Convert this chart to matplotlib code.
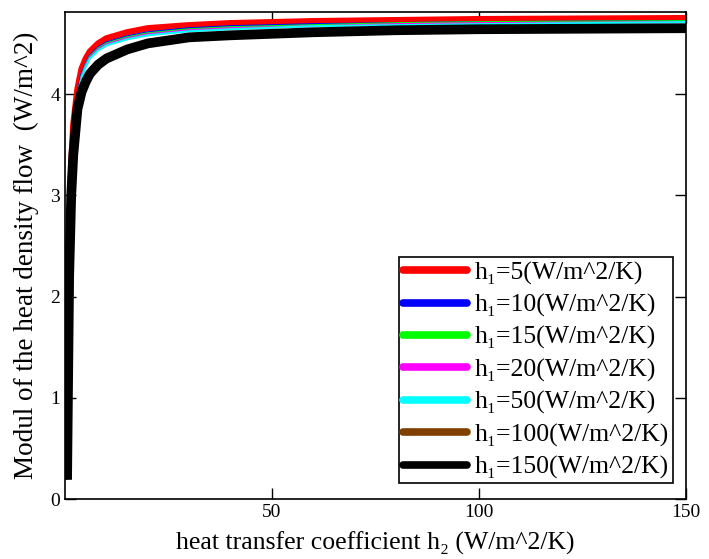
import matplotlib
matplotlib.use("Agg")
import matplotlib.pyplot as plt
from matplotlib.lines import Line2D

plt.rcParams['font.family'] = ['Liberation Serif', 'DejaVu Serif']

# heat transfer coefficient h2 sample points
h2 = [0.5, 1, 1.5, 2, 3, 4, 5, 6, 8, 10, 15, 20, 30, 40, 60, 80, 100, 150]

q_h5 = [0.20, 2.50, 3.30, 3.70, 4.05, 4.25, 4.35, 4.42, 4.50, 4.55, 4.61, 4.65, 4.68, 4.70, 4.72, 4.73, 4.74, 4.75]
q_h10 = [0.20, 2.45, 3.25, 3.65, 4.00, 4.20, 4.30, 4.38, 4.46, 4.51, 4.57, 4.61, 4.65, 4.67, 4.69, 4.70, 4.71, 4.72]
q_h15 = [0.20, 2.43, 3.23, 3.63, 3.98, 4.18, 4.29, 4.37, 4.45, 4.50, 4.56, 4.60, 4.64, 4.66, 4.68, 4.70, 4.71, 4.72]
q_h20 = [0.20, 2.42, 3.22, 3.62, 3.97, 4.17, 4.28, 4.36, 4.44, 4.49, 4.55, 4.59, 4.63, 4.65, 4.67, 4.69, 4.70, 4.71]
q_h50 = [0.20, 2.40, 3.20, 3.60, 3.95, 4.16, 4.27, 4.35, 4.43, 4.48, 4.54, 4.58, 4.62, 4.64, 4.67, 4.68, 4.69, 4.71]
q_h100 = [0.19, 2.30, 3.10, 3.50, 3.90, 4.08, 4.17, 4.25, 4.33, 4.39, 4.47, 4.52, 4.57, 4.59, 4.62, 4.64, 4.65, 4.66]
q_h150 = [0.19, 2.20, 3.00, 3.40, 3.85, 4.02, 4.12, 4.20, 4.29, 4.35, 4.44, 4.50, 4.56, 4.58, 4.61, 4.63, 4.64, 4.65]

labels = ['h\u2081=5(W/m^2/K)', 'h\u2081=10(W/m^2/K)', 'h\u2081=15(W/m^2/K)',
          'h\u2081=20(W/m^2/K)', 'h\u2081=50(W/m^2/K)', 'h\u2081=100(W/m^2/K)',
          'h\u2081=150(W/m^2/K)']
series = [q_h5, q_h10, q_h15, q_h20, q_h50, q_h100, q_h150]
colors = ['#ff0000', '#0000ff', '#00ff00', '#ff00ff', '#00ffff', '#804000', '#000000']
widths = [4.5, 1.5, 1.5, 1.5, 1.5, 1.5, 7]

fig = plt.figure(figsize=(7.09, 5.59), dpi=100)
ax = fig.add_axes([0.0917, 0.1073, 0.8759, 0.8712])

for q, c, w in zip(series, colors, widths):
    ax.plot(h2, q, color=c, lw=w, solid_capstyle='butt')

ax.set_xlim(0, 150)
ax.set_ylim(0, 4.81)
ax.set_xticks([50, 100, 150])
ax.set_yticks([0, 1, 2, 3, 4])
ax.tick_params(direction='in', length=8, width=1, labelsize=14,
               top=True, right=True, colors='black')
for s in ax.spines.values():
    s.set_linewidth(1.2)

ax.set_xlabel('heat transfer coefficient h\u2082 (W/m^2/K)', fontsize=18.5, labelpad=8)
ax.set_ylabel('Modul of the heat density flow  (W/m^2)', fontsize=19.5, labelpad=8)

handles = [Line2D([], [], color=c, lw=5.5, solid_capstyle='round') for c in colors]
leg = ax.legend(handles, labels, loc='lower right', bbox_to_anchor=(0.979, 0.033),
                borderaxespad=0, fontsize=18.5, handlelength=2.5, handletextpad=0.3,
                labelspacing=0.35, fancybox=False, framealpha=1, edgecolor='black',
                borderpad=0.15)
leg.get_frame().set_linewidth(1.2)

fig.savefig('out.png', dpi=100)
